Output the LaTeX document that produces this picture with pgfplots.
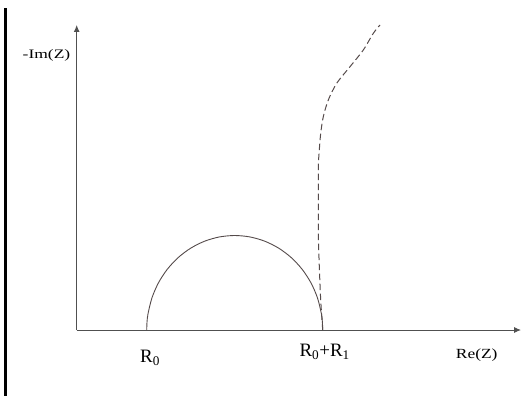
\documentclass[border=0pt]{standalone}
\usepackage{fontspec}
\setmainfont{Liberation Serif}
\usepackage{pgfplots}
\pgfplotsset{compat=1.18}
\usetikzlibrary{arrows.meta}
\definecolor{axclr}{RGB}{80,80,80}
\definecolor{curveclr}{RGB}{85,75,75}
\begin{document}
\begin{tikzpicture}[x=1bp,y=1bp]
\path[use as bounding box] (0,0) rectangle (522,396);
\fill[black] (4,0) rectangle (6.6,387.7);
\begin{axis}[
  at={(76.7bp,66bp)}, anchor=south west,
  scale only axis, width=444.3bp, height=305bp,
  xmin=0, xmax=444.3, ymin=0, ymax=305,
  axis lines=left,
  axis line style={draw=axclr, line width=0.9bp, -{Latex[length=7bp,width=6bp]}},
  ticks=none,
  clip=false,
]
% semicircle
\addplot[curveclr, line width=0.9bp, smooth] coordinates {
(70,0) (70.33,8.24) (71.34,16.41) (75.31,32.32) (81.79,47.25) (90.59,60.74)
(101.43,72.39) (114,81.84) (127.90,88.80) (142.72,93.06) (158,94.5)
(173.28,93.06) (188.10,88.80) (202,81.84) (214.57,72.39) (225.41,60.74)
(234.21,47.25) (240.69,32.32) (244.66,16.41) (245.67,8.24) (246,0)};
% dashed tail
\addplot[curveclr, line width=1bp, smooth, dash pattern=on 6.5bp off 3.5bp] coordinates {
(246,0) (244,30) (242.6,63.3) (241.6,96.7) (241.6,130) (241.6,163.3)
(242.6,180) (244,196.7) (246.6,213.3) (251.6,230) (260,246.7)
(273.3,263.3) (286.6,280) (296.6,296.7) (303.3,305)};
\node[anchor=base, font=\fontsize{13}{13}\selectfont] at (axis cs:-30.2,271) {\scalebox{1.35}[1]{-Im(Z)}};
\node[anchor=base, font=\fontsize{19}{19}\selectfont] at (axis cs:73.3,-32.5) {R\textsubscript{0}};
\node[anchor=base, font=\fontsize{19}{19}\selectfont] at (axis cs:248,-26.5) {R\textsubscript{0}+R\textsubscript{1}};
\node[anchor=base, font=\fontsize{14}{14}\selectfont] at (axis cs:400,-28) {\scalebox{1.25}[1]{Re(Z)}};
\end{axis}
\end{tikzpicture}
\end{document}
